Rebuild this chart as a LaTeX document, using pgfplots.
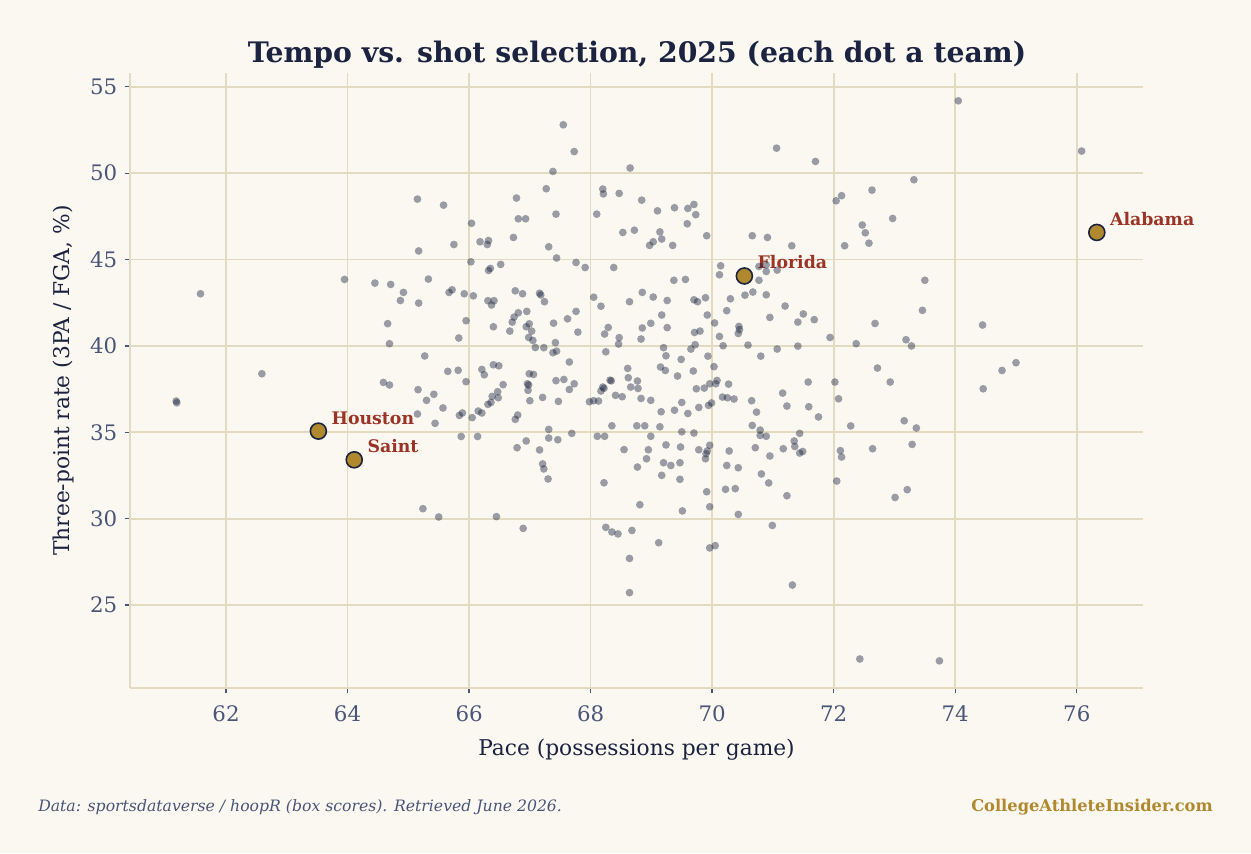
\documentclass[border=0pt]{standalone}
\usepackage{pgfplots}
\pgfplotsset{compat=1.18}
\usepackage{fontspec}
\setmainfont{DejaVu Serif}
\definecolor{bgc}{RGB}{250,248,240}
\definecolor{gridc}{RGB}{226,219,194}
\definecolor{slate}{RGB}{74,85,120}
\definecolor{navy}{RGB}{27,35,64}
\definecolor{goldc}{RGB}{176,136,46}
\definecolor{redl}{RGB}{155,52,38}
\begin{document}
\begin{tikzpicture}
\fill[bgc] (-97.5pt,-123.75pt) rectangle (840.75pt,516pt);
\begin{axis}[
  scale only axis, width=759.75pt, height=461.25pt,
  xmin=60.42, xmax=77.09, ymin=20.2, ymax=55.8,
  axis x line*=bottom, axis y line*=left,
  axis line style={-, color=gridc, line width=1.5pt},
  xtick={62,64,...,76}, ytick={25,30,...,55},
  grid=major, grid style={color=gridc, line width=1.3pt},
  tick align=outside, major tick length=4pt,
  tick style={color=slate, line width=1pt},
  /pgf/number format/assume math mode=true,
  ticklabel style={font=\fontsize{16}{16}\selectfont, color=slate},
  xticklabel style={yshift=-6pt},
  yticklabel style={xshift=-2pt},
  xlabel={Pace (possessions per game)},
  ylabel={Three-point rate (3PA / FGA, \%)},
  label style={font=\fontsize{16.3}{16.3}\selectfont, color=navy},
  xlabel style={at={(axis description cs:0.5,-0.1008)}, anchor=center},
  ylabel style={at={(axis description cs:-0.0652,0.5)}, anchor=center},
  clip=false,
]
\addplot[only marks, mark=*, mark size=2.9pt, mark options={fill=navy, fill opacity=0.43, draw opacity=0}] table {
x y
61.18 36.81
61.19 36.71
61.58 43.02
62.59 38.39
63.95 43.85
64.45 43.64
64.66 41.29
64.69 40.13
64.59 37.89
64.69 37.74
64.71 43.56
65.33 43.87
64.92 43.10
64.87 42.63
65.17 42.48
65.67 43.10
65.72 43.25
65.92 43.02
66.07 42.90
65.95 41.46
65.83 40.46
65.27 39.42
65.65 38.53
65.82 38.59
65.95 37.93
65.16 37.47
65.30 36.85
65.42 37.20
65.57 36.41
65.15 36.06
65.44 35.52
65.84 35.98
65.89 36.12
65.87 34.76
66.14 34.76
66.05 35.85
66.15 36.23
66.21 36.12
66.31 42.62
66.41 42.62
66.37 42.37
66.40 41.11
66.76 43.19
66.88 43.02
67.16 43.05
67.18 42.95
67.24 42.56
66.81 41.92
66.95 42.00
66.74 41.67
66.71 41.38
66.67 40.86
66.99 41.28
66.94 41.11
67.03 40.86
66.98 40.49
67.05 40.32
67.09 39.91
67.23 39.90
67.39 41.32
67.62 41.57
67.76 42.00
67.79 40.80
67.42 40.19
67.38 39.61
67.44 39.70
67.65 39.07
68.05 42.82
68.17 42.30
68.64 42.56
68.85 43.10
68.29 41.07
68.23 40.69
68.47 40.48
68.46 40.11
68.83 40.40
68.85 41.04
68.25 39.66
68.61 38.70
68.62 38.16
68.77 37.97
68.32 38.02
68.34 37.98
68.20 37.62
68.17 37.39
68.22 37.55
68.66 37.62
68.78 37.54
68.41 37.14
68.52 37.06
68.83 36.96
67.98 36.77
68.05 36.83
68.13 36.81
66.21 38.64
66.25 38.33
66.40 38.91
66.49 38.85
66.56 37.76
66.47 37.35
66.48 37.00
66.38 37.08
66.31 36.62
66.36 36.73
66.99 38.39
67.06 38.35
66.96 37.81
66.98 37.74
66.97 37.43
67.00 36.83
67.21 37.02
67.43 37.99
67.56 38.06
67.65 37.48
67.73 37.81
67.47 36.79
66.76 35.75
66.80 36.00
66.79 34.11
66.94 34.50
67.16 33.98
67.21 33.17
67.23 32.88
67.30 32.30
67.31 35.17
67.31 34.67
67.46 34.57
67.69 34.94
68.11 34.77
68.23 34.77
68.35 35.38
68.76 35.38
68.89 35.38
68.55 34.00
68.77 32.99
68.22 32.08
67.55 52.80
67.73 51.25
67.38 50.10
68.65 50.30
65.15 48.50
65.58 48.15
66.78 48.56
67.27 49.10
68.20 49.08
68.21 48.80
68.47 48.83
68.84 48.44
66.04 47.10
66.81 47.36
66.93 47.36
67.43 47.63
68.10 47.63
68.53 46.57
68.72 46.70
65.75 45.87
65.17 45.50
66.18 46.03
66.32 46.10
66.30 45.87
66.73 46.28
67.31 45.74
67.44 45.09
67.76 44.83
67.91 44.54
68.38 44.54
66.03 44.87
66.32 44.37
66.35 44.49
66.52 44.72
71.06 51.45
71.70 50.68
69.10 47.82
69.38 48.00
69.60 47.96
69.70 48.19
69.73 47.60
69.59 47.07
69.14 46.60
69.03 46.03
68.97 45.82
69.17 46.19
69.35 45.82
69.91 46.38
70.66 46.38
70.91 46.28
71.31 45.80
72.04 48.40
72.13 48.70
72.63 49.02
72.97 47.38
72.47 47.00
72.52 46.55
72.58 45.95
72.18 45.80
70.14 44.64
70.12 44.12
70.77 44.60
70.89 44.70
70.89 44.31
71.07 44.39
70.77 43.80
69.37 43.80
69.56 43.85
74.05 54.19
76.08 51.28
73.32 49.62
73.50 43.80
69.03 42.83
69.26 42.63
69.70 42.67
69.76 42.56
69.89 42.79
70.30 42.73
70.54 42.94
70.67 43.12
70.89 42.96
71.20 42.31
71.50 41.85
71.41 41.38
71.68 41.52
70.95 41.65
70.24 42.04
69.92 41.79
69.17 41.79
70.04 41.33
70.44 41.13
70.43 40.72
70.45 40.95
68.99 41.31
69.26 41.06
69.71 40.78
69.80 40.86
70.12 40.55
70.18 40.01
69.72 40.07
69.65 39.82
69.20 39.90
69.24 39.43
69.49 39.22
69.93 39.41
70.59 40.05
71.07 39.82
71.41 39.99
71.94 40.49
72.37 40.13
72.68 41.30
70.80 39.41
69.15 38.78
69.23 38.58
69.69 38.55
69.43 38.26
70.03 38.80
68.99 36.85
69.74 37.52
69.87 37.56
69.96 37.81
70.06 37.81
70.08 38.00
70.27 37.79
70.17 37.04
70.25 37.00
70.36 36.93
70.65 36.83
70.73 36.17
71.16 37.27
71.23 36.52
71.58 37.91
72.02 37.91
72.08 36.94
72.72 38.72
72.93 37.91
71.59 36.48
71.75 35.89
72.28 35.37
69.50 36.73
69.38 36.28
69.60 36.09
69.78 36.44
69.94 36.56
69.99 36.70
69.16 36.19
69.14 35.32
68.99 34.77
69.50 35.03
69.70 34.96
70.66 35.40
70.79 35.13
70.79 34.82
70.89 34.77
71.44 34.94
71.35 34.50
71.36 34.18
71.44 33.80
71.49 33.89
71.17 34.05
70.71 34.11
70.95 33.63
70.28 33.92
72.11 33.94
72.13 33.57
72.64 34.05
69.24 34.27
69.48 34.15
69.78 33.99
69.92 33.92
69.90 33.76
69.96 34.25
69.89 33.47
68.95 33.99
68.92 33.47
69.20 33.24
69.32 33.08
69.47 33.24
69.17 32.51
69.47 32.28
70.24 33.08
70.43 32.95
70.81 32.59
70.93 32.07
72.05 32.18
69.91 31.56
70.22 31.70
70.38 31.74
71.23 31.33
68.81 30.81
69.51 30.45
69.96 30.69
70.43 30.25
70.99 29.61
73.01 31.23
69.12 28.61
69.96 28.31
70.05 28.44
71.32 26.16
72.43 21.88
73.21 31.68
73.74 21.77
73.46 42.06
74.45 41.21
73.19 40.36
73.28 40.00
75.00 39.03
74.77 38.58
74.46 37.52
73.16 35.67
73.36 35.25
73.29 34.30
65.24 30.58
65.50 30.10
66.45 30.12
66.89 29.44
68.25 29.50
68.35 29.23
68.45 29.12
68.68 29.32
68.64 27.70
68.64 25.72
};
\addplot[only marks, mark=*, mark size=6pt, mark options={fill=goldc, draw=navy, line width=1.2pt}] table {
x y
63.52 35.07
64.11 33.41
70.53 44.05
76.33 46.57
};
\begin{scope}[every node/.style={anchor=base west, font=\fontsize{13}{13}\selectfont\bfseries, text=redl, xshift=9.75pt, yshift=5.25pt, inner sep=0pt}]
\node at (axis cs:63.52,35.07) {Houston};
\node at (axis cs:64.11,33.41) {Saint};
\node at (axis cs:70.53,44.05) {Florida};
\node at (axis cs:76.33,46.57) {Alabama};
\end{scope}
\end{axis}
\node[anchor=base, font=\fontsize{21.2}{21.2}\selectfont\bfseries, text=navy, inner sep=0pt] at (380.25pt,468.75pt) {Tempo vs. shot selection, 2025 (each dot a team)};
\node[anchor=base west, font=\fontsize{11.75}{11.75}\selectfont\itshape, text=slate, inner sep=0pt] at (-69pt,-92.25pt) {Data: sportsdataverse / hoopR (box scores). Retrieved June 2026.};
\node[anchor=base east, font=\fontsize{12.2}{12.2}\selectfont\bfseries, text=goldc, inner sep=0pt] at (812.25pt,-92.25pt) {CollegeAthleteInsider.com};
\end{tikzpicture}
\end{document}
